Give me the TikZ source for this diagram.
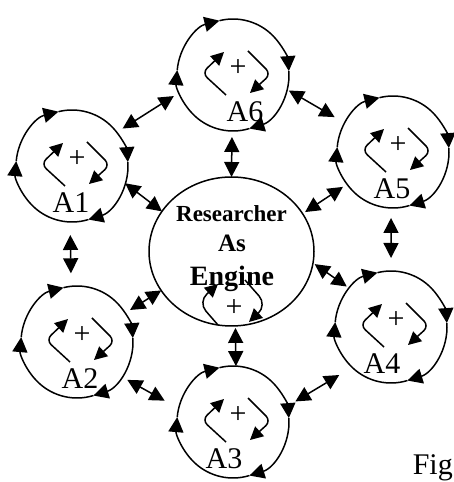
\documentclass[tikz,border=0pt]{standalone}
\usepackage{fontspec}
\setmainfont{Liberation Serif}
\usetikzlibrary{arrows.meta,shapes.geometric}

\begin{document}
\begin{tikzpicture}[x=1pt, y=1pt, line width=1.5pt,
  agent/.style={circle, minimum size=112pt, inner sep=0pt, outer sep=0pt},
  rim/.style={-{Triangle[length=15pt,width=15pt]}},
  turn/.style={-{Triangle[length=13pt,width=13pt]}, rounded corners=7pt},
  link/.style={{Triangle[length=15pt,width=15pt]}-{Triangle[length=15pt,width=15pt]}},
  plus/.style={inner sep=0pt, font=\fontsize{30}{30}\selectfont},
  tag/.style={anchor=base, inner sep=0pt, font=\fontsize{30}{30}\selectfont}]
  \useasboundingbox (0,0) rectangle (454,482);

  % the researcher in the middle
  \node[draw, ellipse, minimum width=165pt, minimum height=149pt, inner sep=0pt, outer sep=0pt]
    (E) at (231.5,230.5) {};
  \node[anchor=base, inner sep=0pt, font=\fontsize{23}{23}\selectfont\bfseries] (r1) at (231.5,260) {Researcher};
  \node[anchor=base, inner sep=0pt, font=\fontsize{25}{25}\selectfont\bfseries] (r2) at (232,230) {As};
  \node[anchor=base, inner sep=0pt, font=\fontsize{28}{28}\selectfont\bfseries] (r3) at (232,196) {Engine};
  \node[plus] (pE) at (234,174) {+};
  \draw[turn, rounded corners=12pt] ([shift={(-16,-17)}]pE.center) -- ++(-20,23) -- ++(20,18);
  \draw[turn, rounded corners=12pt] ([shift={(11,28)}]pE.center) -- ++(22,-25) -- ++(-18,-17);

  % the six agents
  \foreach \n/\x/\y/\dx in {1/72/316/-1, 2/77/140/3, 3/233/60/-9, 4/391/155/-9, 5/393/330/-1, 6/233/407/12} {
    \node[agent] (A\n) at (\x,\y) {};
    \node[plus] (p\n) at (\x+5,\y+7) {+};
    \node[tag] (t\n) at (\x+\dx,\y-47) {A\n};
    \draw[rim] (A\n.175) arc[start angle=175, end angle=104, radius=56pt];
    \draw[rim] (A\n.104) arc[start angle=104, end angle=4, radius=56pt];
    \draw[rim] (A\n.4) arc[start angle=4, end angle=-73, radius=56pt];
    \draw[rim] (A\n.-73) arc[start angle=-73, end angle=-185, radius=56pt];
    \draw[turn] ([shift={(-12,-27)}]p\n.center) -- ++(-24,22) -- ++(22,21);
    \draw[turn] ([shift={(10,17)}]p\n.center) -- ++(23,-23) -- ++(-21,-19);
  }

  % links
  \draw[link, shorten <=13pt, shorten >=13pt] (A1.-92) -- (A2.96);
  \draw[link] (A1.-18) -- (E.150);
  \draw[link, shorten <=7pt, shorten >=7pt] (A1.37) -- (A6.198);
  \draw[link, shorten <=6pt] (A6.-91) -- (E.90);
  \draw[link, shorten <=2pt, shorten >=12pt] (A6.-15) -- (A5.149);
  \draw[link, shorten <=3pt, shorten >=5pt] (E.28) -- (A5.215);
  \draw[link, shorten <=10pt, shorten >=13pt] (A5.-92) -- (A4.90);
  \draw[link, shorten <=2pt, shorten >=4pt] (E.-8) -- (A4.137);
  \draw[link, shorten <=15pt, shorten >=10pt] (A4.226) -- (A3.16);
  \draw[link, shorten <=2pt] (E.-87) -- (A3.87);
  \draw[link, shorten <=6pt] (A2.31) -- (E.209);
  \draw[link, shorten <=7pt, shorten >=16pt] (A2.-38) -- (A3.166);

  \node[anchor=base west, inner sep=0pt, font=\fontsize{30}{30}\selectfont] (fig) at (412,7) {Fig};
\end{tikzpicture}
\end{document}
